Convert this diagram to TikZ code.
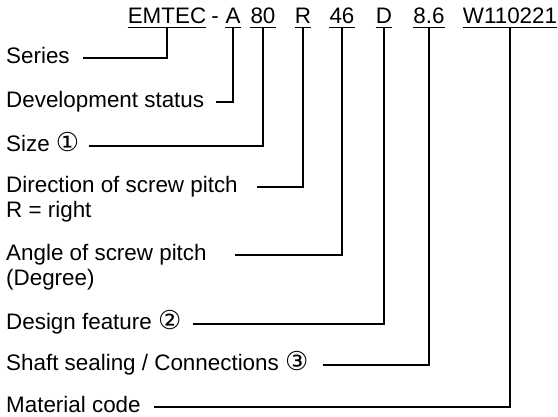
\documentclass[tikz,border=0pt]{standalone}
\usepackage{fontspec}
\setmainfont{Liberation Sans}
\newfontfamily\circfont{DejaVu Sans}
\newcommand{\circnum}[1]{{\circfont\fontsize{26}{26}\selectfont #1}}
\tikzset{
  code/.style={inner xsep=0pt, inner ysep=3pt, text depth=0pt, anchor=base},
  lab/.style={inner sep=0pt, anchor=base west},
  conn/.style={line width=1.3pt},
}
\begin{document}
\begin{tikzpicture}[x=1pt,y=-1pt,font=\fontsize{22.4}{26}\selectfont]
  \useasboundingbox (0,0) rectangle (558,417);
  % type code
  \node[code] (emtec) at (167,24) {EMTEC};
  \node[code] (dash) at (215,24) {-};
  \node[code] (stat) at (233,24) {A};
  \node[code] (size) at (263,24) {80};
  \node[code] (dir) at (303,24) {R};
  \node[code] (ang) at (342,24) {46};
  \node[code] (des) at (384,24) {D};
  \node[code] (seal) at (429,24) {8.6};
  \node[code] (mat) at (510,24) {W110221};
  \foreach \n in {emtec,stat,size,dir,ang,des,seal,mat}
    \draw[conn] (\n.south west) -- (\n.south east);
  % labels
  \node[lab] (lser) at (6,64) {Series};
  \node[lab] (lstat) at (6,108) {Development status};
  \node[lab] (lsize) at (6,152) {Size \circnum{①}};
  \node[lab] (ldir) at (6,193) {Direction of screw pitch};
  \node[lab] (ldirb) at (6,218) {R = right};
  \node[lab] (lang) at (6,261) {Angle of screw pitch};
  \node[lab] (langb) at (6,286) {(Degree)};
  \node[lab] (ldes) at (6,330) {Design feature \circnum{②}};
  \node[lab] (lseal) at (6,371) {Shaft sealing / Connections \circnum{③}};
  \node[lab] (lmat) at (6,413) {Material code};
  % connectors
  \foreach \lb/\cd/\gp in {lser/emtec/13.5, lstat/stat/12, lsize/size/9,
      ldir/dir/19.5, lang/ang/28.6, ldes/des/11, lseal/seal/14, lmat/mat/13.6}
    \draw[conn] ([xshift=\gp pt,yshift=6pt]\lb.base east) -| (\cd.south);
\end{tikzpicture}
\end{document}
